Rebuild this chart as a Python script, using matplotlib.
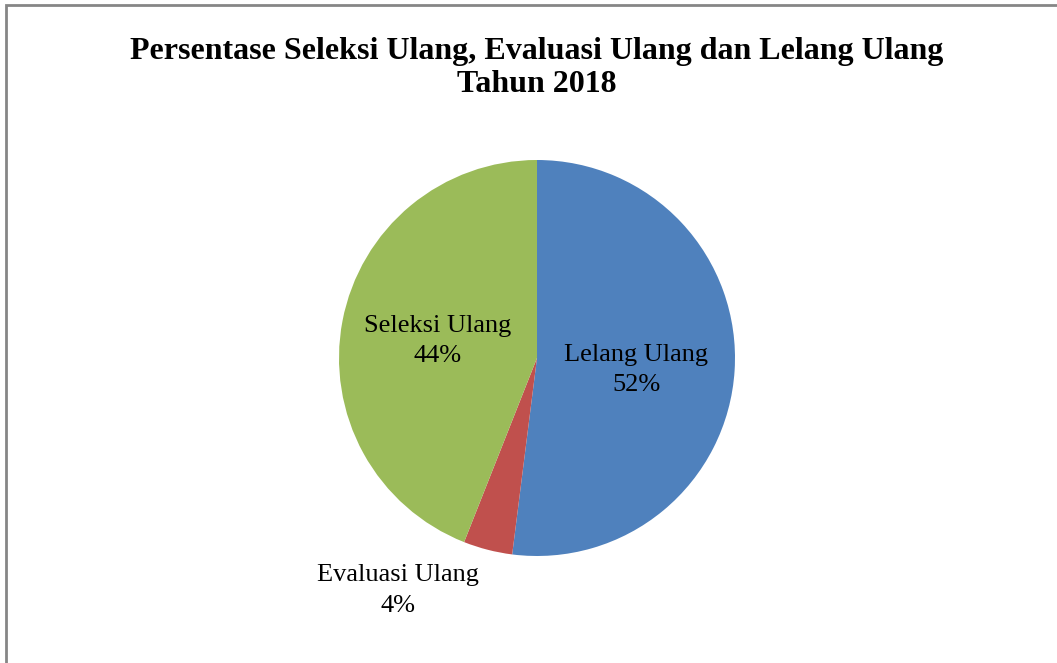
import matplotlib.pyplot as plt
from matplotlib.patches import Rectangle

plt.rcParams['font.family'] = ['Liberation Serif', 'DejaVu Serif']

labels = ['Lelang Ulang', 'Evaluasi Ulang', 'Seleksi Ulang']
values = [52, 4, 44]
colors = ['#4F81BD', '#C0504D', '#9BBB59']
title = 'Persentase Seleksi Ulang, Evaluasi Ulang dan Lelang Ulang\nTahun 2018'

W, H = 1057, 663
fig = plt.figure(figsize=(W / 100, H / 100), dpi=100)

# chart frame (right and bottom edges fall outside the crop)
fig.patches.append(Rectangle((6 / W, -0.1), 1.2, 1 - 5 / H + 0.1,
                             transform=fig.transFigure, fill=False,
                             edgecolor='#868686', linewidth=2))

cx, cy, r = 537, 358, 198
ax = fig.add_axes([(cx - r) / W, (H - cy - r) / H, 2 * r / W, 2 * r / H])
ax.pie(values, colors=colors, startangle=90, counterclock=False,
       wedgeprops=dict(linewidth=0))
ax.set_xlim(-1, 1)
ax.set_ylim(-1, 1)
ax.set_aspect('equal')
ax.axis('off')

label_pos = [(0.50, -0.06), (-0.70, -1.175), (-0.50, 0.085)]
for lab, v, (x, y) in zip(labels, values, label_pos):
    ax.text(x, y, f'{lab}\n{v}%', ha='center', va='center', fontsize=19,
            linespacing=1.5, clip_on=False)

fig.text(537 / W, 1 - 68 / H, title, ha='center', va='center',
         fontsize=23, fontweight='bold', linespacing=1.22)

plt.savefig('out.png', dpi=100)
